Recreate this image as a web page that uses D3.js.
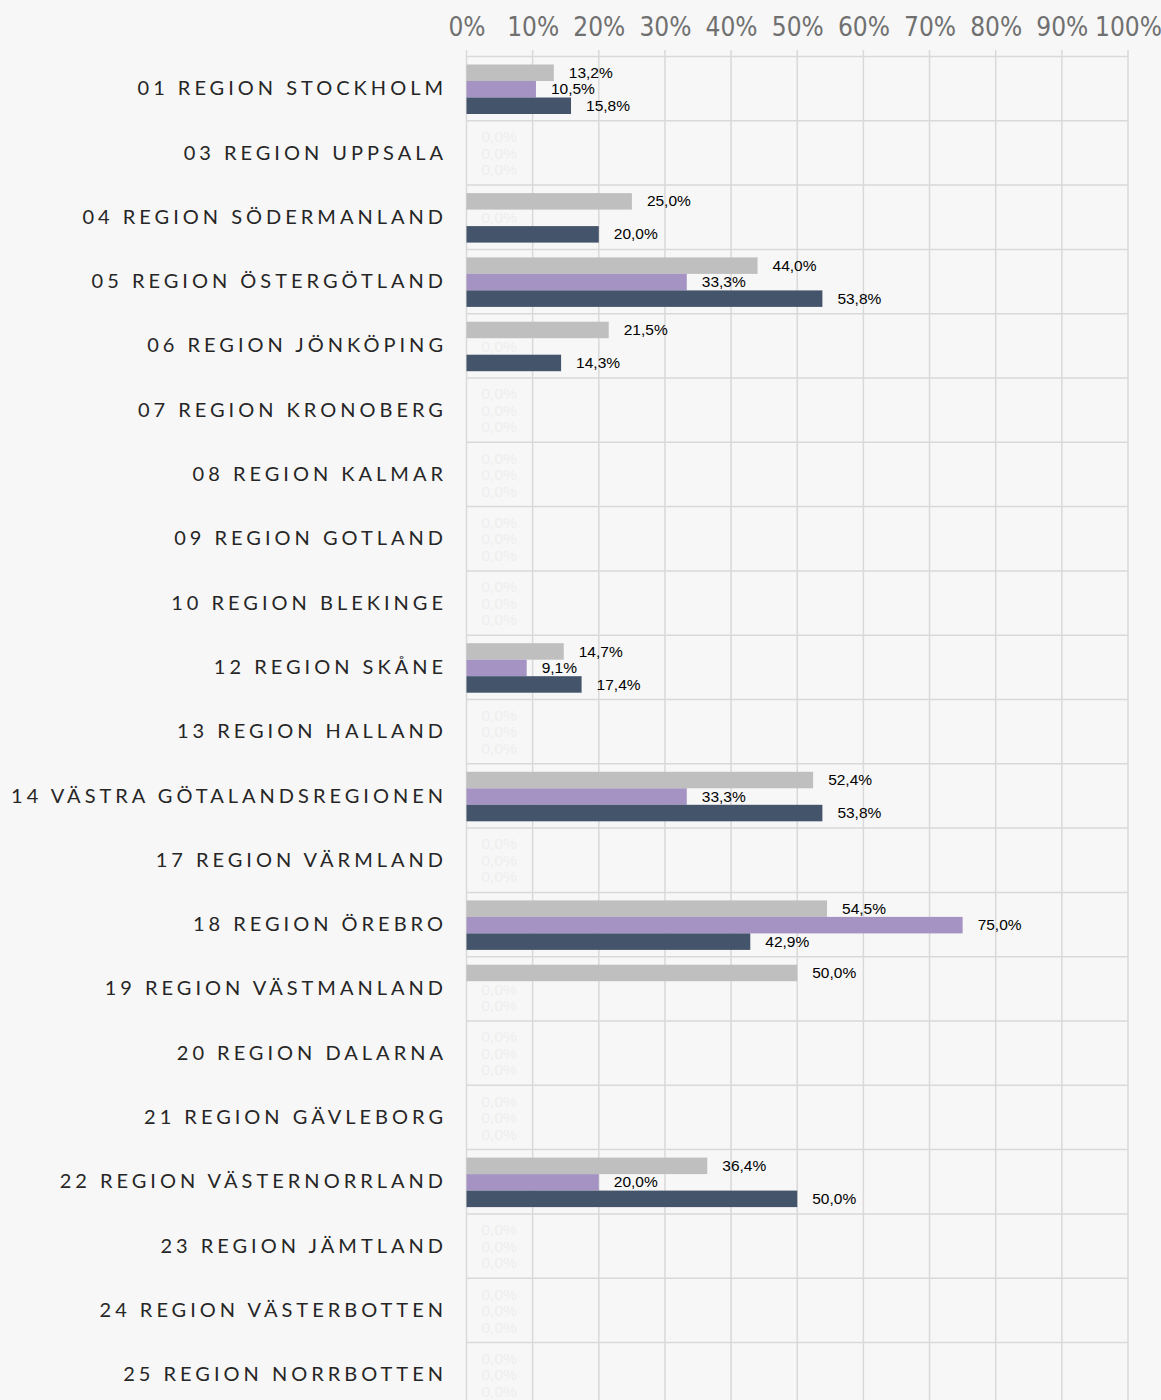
<!DOCTYPE html>
<html><head><meta charset="utf-8">
<script src="https://cdn.jsdelivr.net/npm/d3@7"></script>
<style>
html,body{margin:0;padding:0;background:#f7f7f7;}
svg{display:block;}
</style></head>
<body>
<script>
const categories = ["01 REGION STOCKHOLM","03 REGION UPPSALA","04 REGION SÖDERMANLAND","05 REGION ÖSTERGÖTLAND","06 REGION JÖNKÖPING","07 REGION KRONOBERG","08 REGION KALMAR","09 REGION GOTLAND","10 REGION BLEKINGE","12 REGION SKÅNE","13 REGION HALLAND","14 VÄSTRA GÖTALANDSREGIONEN","17 REGION VÄRMLAND","18 REGION ÖREBRO","19 REGION VÄSTMANLAND","20 REGION DALARNA","21 REGION GÄVLEBORG","22 REGION VÄSTERNORRLAND","23 REGION JÄMTLAND","24 REGION VÄSTERBOTTEN","25 REGION NORRBOTTEN"];
const seriesNames = ["s1","s2","s3"];
const seriesA = [13.2,0,25.0,44.0,21.5,0,0,0,0,14.7,0,52.4,0,54.5,50.0,0,0,36.4,0,0,0];
const seriesB = [10.5,0,0,33.3,0,0,0,0,0,9.1,0,33.3,0,75.0,0,0,0,20.0,0,0,0];
const seriesC = [15.8,0,20.0,53.8,14.3,0,0,0,0,17.4,0,53.8,0,42.9,0,0,0,50.0,0,0,0];
const tickValues = [0,10,20,30,40,50,60,70,80,90,100];
const colors = ["#bfbfbf","#a593c4","#44546a"];

const W = 1161, H = 1400;
const svg = d3.select("body").append("svg").attr("width",W).attr("height",H);
svg.append("rect").attr("width",W).attr("height",H).attr("fill","#f7f7f7");

const x = d3.scaleLinear().domain([0,100]).range([466.5,1128]);
const y = d3.scaleBand().domain(categories).range([56.5,56.5+64.3*categories.length]).paddingInner(0).paddingOuter(0);
const inner = d3.scaleBand().domain(seriesNames).range([8,57.5]).paddingInner(0).paddingOuter(0);

const grid = svg.append("g");
grid.selectAll("line.v").data(tickValues).join("line")
  .attr("x1",d=>x(d)).attr("x2",d=>x(d))
  .attr("y1",50).attr("y2",H)
  .attr("stroke","#d9d9d9").attr("stroke-width",1.5);
const bounds = categories.map(c=>y(c)).concat([y(categories[categories.length-1])+y.step()]);
grid.selectAll("line.h").data(bounds).join("line")
  .attr("x1",x(0)).attr("x2",x(100))
  .attr("y1",d=>d).attr("y2",d=>d)
  .attr("stroke","#d9d9d9").attr("stroke-width",1.5);

const axis = d3.axisTop(x).tickValues(tickValues).tickFormat(d=>d+"%").tickSize(0).tickPadding(0);
const ag = svg.append("g").attr("transform","translate(0,36)").call(axis);
ag.select(".domain").remove();
ag.selectAll("text").attr("fill","#707070").attr("font-family","'Liberation Sans Narrow','DejaVu Sans Condensed',sans-serif")
  .attr("font-size",26).attr("dy",0);

svg.append("g").selectAll("text").data(categories).join("text")
  .attr("x",447).attr("y",d=>y(d)+y.bandwidth()/2+1.5)
  .attr("text-anchor","end").attr("dominant-baseline","middle")
  .attr("font-family","Lato, 'DejaVu Sans', sans-serif").attr("font-size",20)
  .attr("letter-spacing","4px").attr("fill","#262626")
  .text(d=>d);

const series = [seriesA, seriesB, seriesC];
const rows = [];
categories.forEach((c,i)=>{
  series.forEach((s,j)=>rows.push({cat:c, key:seriesNames[j], v:s[i], color:colors[j]}));
});

const g = svg.append("g");
g.selectAll("rect").data(rows.filter(r=>r.v>0)).join("rect")
  .attr("x",x(0)).attr("y",r=>y(r.cat)+inner(r.key))
  .attr("width",r=>x(r.v)-x(0)).attr("height",inner.bandwidth())
  .attr("fill",r=>r.color);

g.selectAll("text").data(rows).join("text")
  .attr("x",r=>x(r.v)+15).attr("y",r=>y(r.cat)+inner(r.key)+inner.bandwidth()/2+1)
  .attr("dominant-baseline","middle")
  .attr("font-family","'Liberation Sans', Arial, sans-serif").attr("font-size",15.5)
  .attr("fill",r=>r.v>0?"#000000":"#eeeeee")
  .text(r=>r.v.toFixed(1).replace(".",",")+"%");
</script>
</body></html>
